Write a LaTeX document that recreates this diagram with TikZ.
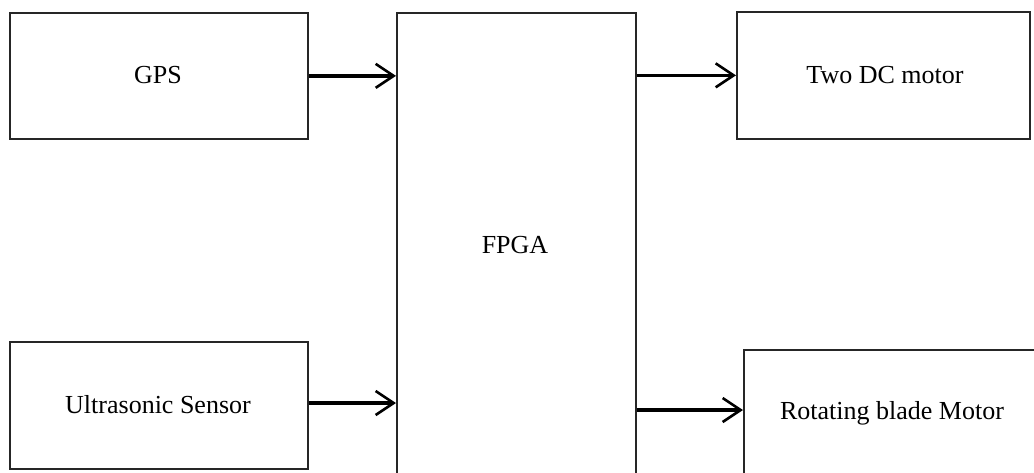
\documentclass[tikz,border=0pt]{standalone}
\usepackage{fontspec}
\setmainfont{Liberation Serif}
\usetikzlibrary{arrows.meta}
\begin{document}
\begin{tikzpicture}[x=1pt,y=-1pt,
  blk/.style={draw=black!85, line width=1.7pt, rectangle, inner sep=0pt, anchor=north west},
  lbl/.style={font=\fontsize{26}{30}\selectfont, inner sep=0pt},
  conn/.style={line width=3.6pt, -{Straight Barb[length=18pt,width=24pt,line width=2.6pt]}}]
\useasboundingbox (0,0) rectangle (1034,472);
\clip (0,0) rectangle (1034,472);
\node[blk, minimum width=298pt, minimum height=126pt] (gps) at (9,12) {};
\node[lbl] (gpst) at (158,75) {GPS};
\node[blk, minimum width=298pt, minimum height=127pt] (us) at (9,341) {};
\node[lbl] (ust) at (158,405) {Ultrasonic Sensor};
\node[blk, minimum width=239pt, minimum height=500pt] (fpga) at (396,12) {};
\node[lbl] (fpgat) at (515,245) {FPGA};
\node[blk, minimum width=293pt, minimum height=127pt] (dc) at (736,11) {};
\node[lbl] (dct) at (885,75) {Two DC motor};
\node[blk, minimum width=300pt, minimum height=200pt] (rb) at (743,349) {};
\node[lbl] (rbt) at (892,413) {Rotating blade Motor};
\coordinate (rbin) at (743,410);
\draw[conn] (gps.east) -- (gps.east -| fpga.west);
\draw[conn] (us.east |- 0,403) -- (fpga.west |- 0,403);
\draw[conn] (fpga.east |- dc.west) -- (dc.west);
\draw[conn] (fpga.east |- rbin) -- (rbin);
\end{tikzpicture}
\end{document}
